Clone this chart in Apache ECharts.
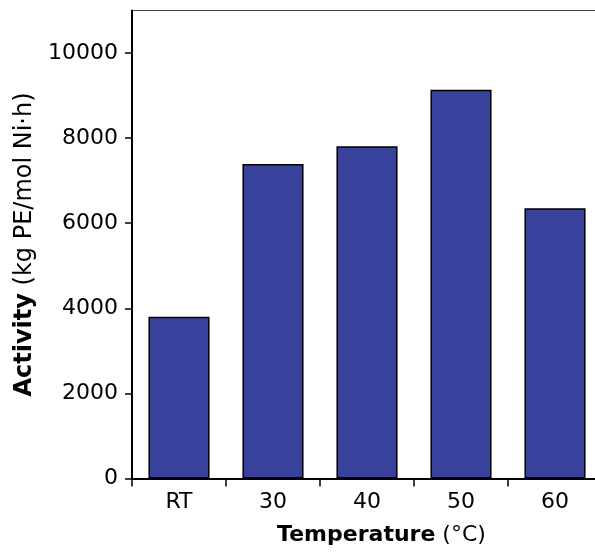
<!DOCTYPE html>
<html>
<head>
<meta charset="utf-8">
<script src="https://cdn.jsdelivr.net/npm/echarts@6/dist/echarts.min.js"></script>
<style>
  html, body { margin: 0; padding: 0; background: #fff; }
  #chart { width: 595px; height: 552px; }
</style>
</head>
<body>
<div id="chart"></div>
<script>
// data
const categories = ['RT', '30', '40', '50', '60'];
const activity = [3800, 7390, 7810, 9140, 6350];
const yTicks = [0, 2000, 4000, 6000, 8000, 10000];

const chart = echarts.init(document.getElementById('chart'));
const font = 'DejaVu Sans, sans-serif';

chart.setOption({
  animation: false,
  grid: {
    left: 132,
    width: 470,
    top: 10.5,
    bottom: 73.5,
    outerBoundsMode: 'none',
    containLabel: false,
    show: true,
    borderColor: '#444',
    borderWidth: 1,
    backgroundColor: 'transparent'
  },
  xAxis: {
    type: 'category',
    data: categories,
    axisLine: { lineStyle: { color: '#000', width: 2 } },
    axisTick: { show: true, length: 8, lineStyle: { color: '#000', width: 1.5 } },
    axisLabel: { color: '#000', fontSize: 22, fontFamily: font, margin: 13 },
    name: '{b|Temperature} (°C)',
    nameLocation: 'middle',
    nameGap: 46,
    nameTextStyle: {
      color: '#000',
      fontSize: 22,
      fontFamily: font,
      padding: [0, 0, 0, 29],
      rich: { b: { fontWeight: 'bold', fontSize: 22, fontFamily: font, color: '#000' } }
    }
  },
  yAxis: {
    type: 'value',
    min: 0,
    max: 11000,
    interval: 1000,
    axisLine: { show: true, lineStyle: { color: '#000', width: 2 } },
    axisTick: { show: true, length: 7, customValues: yTicks, lineStyle: { color: '#000', width: 1.5 } },
    axisLabel: {
      color: '#000', fontSize: 22, fontFamily: font, margin: 14,
      customValues: yTicks,
      formatter: v => String(v)
    },
    splitLine: { show: false },
    name: '{b|Activity} (kg PE/mol Ni·h)',
    nameLocation: 'middle',
    nameGap: 89,
    nameTextStyle: {
      color: '#000',
      fontSize: 24,
      fontFamily: font,
      rich: { b: { fontWeight: 'bold', fontSize: 24, fontFamily: font, color: '#000' } }
    }
  },
  series: [
    {
      type: 'bar',
      data: activity,
      barCategoryGap: '35%',
      itemStyle: { color: '#38429D', borderColor: '#000', borderWidth: 1.5 }
    }
  ]
});
</script>
</body>
</html>
